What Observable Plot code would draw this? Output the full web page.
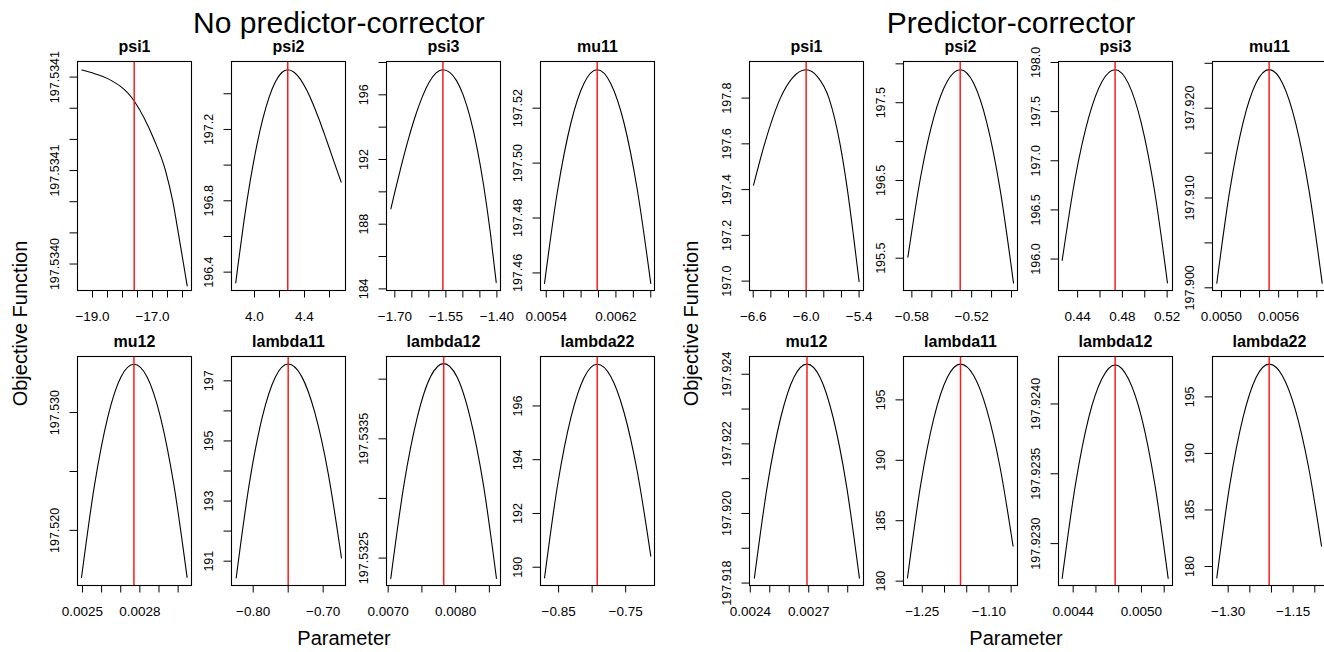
<!DOCTYPE html>
<html><head><meta charset="utf-8">
<script src="https://cdn.jsdelivr.net/npm/d3@7"></script>
<script src="https://cdn.jsdelivr.net/npm/@observablehq/plot@0.6"></script>
<style>
html,body{margin:0;padding:0;background:#fff;}
#fig{position:relative;width:1324px;height:652px;overflow:hidden;font-family:"Liberation Sans",Arial,Helvetica,sans-serif;}
#fig svg{position:absolute;}
</style></head><body><div id="fig"></div>
<script>
// ---------- DATA ----------
const groupTitles = ["No predictor-corrector", "Predictor-corrector"];
const xTitle = "Parameter";
const yTitle = "Objective Function";
const panelNames = ["psi1","psi2","psi3","mu11","mu12","lambda11","lambda12","lambda22"];

// curve samples, panels 0-7: no predictor-corrector, 8-15: predictor-corrector
const curveX = [
  [-19.356,-18.933,-18.489,-17.6,-16.956,-16.567,-16.322,-16.14,-15.965,-15.844],
  [3.85,3.8664,3.9164,3.9664,4.0164,4.0664,4.1164,4.1664,4.2164,4.2664,4.3164,4.3664,4.4164,4.4664,4.5164,4.5664,4.6164,4.6664,4.6936],
  [-1.7117,-1.6987,-1.6787,-1.6587,-1.6387,-1.6187,-1.5987,-1.5787,-1.5587,-1.5387,-1.5187,-1.4987,-1.4787,-1.4587,-1.4387,-1.4187,-1.4019],
  [0.00538,0.005531,0.005683,0.005834,0.005985,0.006139,0.006293,0.006446,0.0066],
  [0.002495,0.0025635,0.002632,0.0027005,0.002769,0.0028385,0.002908,0.0029775,0.003047],
  [-0.8243,-0.8057,-0.7872,-0.7686,-0.75,-0.731,-0.712,-0.6929,-0.6739],
  [0.007039,0.007235,0.007431,0.007627,0.007823,0.008019,0.008214,0.00841,0.008605],
  [-0.871,-0.8514,-0.8317,-0.8121,-0.7924,-0.7724,-0.7525,-0.7325,-0.7125],
  [-6.597,-6.4709,-6.2923,-6.15,-5.9998,-5.87,-5.7415,-5.6162,-5.5325,-5.4642,-5.3997],
  [-0.584,-0.5709,-0.5578,-0.5446,-0.5315,-0.5181,-0.5047,-0.4914,-0.478],
  [0.4262,0.438,0.4499,0.4617,0.4735,0.4852,0.4969,0.5086,0.5203],
  [0.004951,0.0050883,0.0052255,0.0053628,0.0055,0.0056393,0.0057785,0.0059178,0.006057],
  [0.002421,0.0024885,0.002556,0.0026235,0.002691,0.0027583,0.0028255,0.0028928,0.00296],
  [-1.2833,-1.2535,-1.2237,-1.1938,-1.164,-1.1344,-1.1049,-1.0753,-1.0457],
  [0.004303,0.0044195,0.004536,0.0046525,0.004769,0.0048855,0.005002,0.0051185,0.005235],
  [-1.3263,-1.2961,-1.2658,-1.2356,-1.2054,-1.1752,-1.145,-1.1147,-1.0845]
];
const curveY = [
  [197.5341445,197.5341422,197.534139,197.5341243,197.5341002,197.53408,197.53406,197.53404,197.53402,197.534006],
  [196.339,196.431,196.69,196.914,197.104,197.259,197.38,197.466,197.518,197.535,197.521,197.482,197.422,197.346,197.257,197.16,197.059,196.958,196.905],
  [188.95,190.106,191.803,193.367,194.75,195.906,196.788,197.352,197.55,197.39,196.877,195.965,194.607,192.755,190.362,187.382,184.39],
  [197.4562,197.4902,197.5146,197.5291,197.534,197.5291,197.5146,197.4902,197.4562],
  [197.516,197.5239,197.5296,197.533,197.5341,197.533,197.5296,197.5239,197.516],
  [190.44,193.555,195.78,197.115,197.56,197.157,195.948,193.932,191.11],
  [197.53233,197.53312,197.53368,197.53402,197.53413,197.53402,197.53368,197.53312,197.53233],
  [189.6,193.078,195.5625,197.053,197.55,197.104,195.765,193.534,190.41],
  [197.419,197.6,197.8,197.891,197.924,197.893,197.8,197.6,197.4,197.2,196.997],
  [195.513,196.567,197.3205,197.772,197.923,197.752,197.237,196.38,195.18],
  [195.987,196.835,197.441,197.805,197.926,197.79,197.384,196.705,195.756],
  [197.9005,197.9109,197.91835,197.92281,197.9243,197.92281,197.91835,197.9109,197.9005],
  [197.91814,197.92083,197.92275,197.92391,197.92429,197.92391,197.92275,197.92083,197.91814],
  [180.27,188.009,193.5375,196.854,197.96,197.019,194.195,189.489,182.9],
  [197.92275,197.92342,197.9239,197.92418,197.92428,197.92418,197.9239,197.92342,197.92275],
  [178.99,187.263,193.1725,196.718,197.9,196.894,193.875,188.844,181.8]
];
// red vertical line: estimate
const optimum = [-17.61,4.266,-1.5587,0.005985,0.002769,-0.75,0.007823,-0.7924,
                 -6.0,-0.5315,0.4735,0.0055,0.002691,-1.164,0.004769,-1.2054];

const xTicks = [
  [-19,-18.5,-18,-17.5,-17,-16.5,-16],
  [4.0,4.2,4.4,4.6],
  [-1.70,-1.65,-1.60,-1.55,-1.50,-1.45,-1.40],
  [0.0054,0.0056,0.0058,0.0060,0.0062,0.0064,0.0066],
  [0.0025,0.0026,0.0027,0.0028,0.0029,0.0030],
  [-0.80,-0.75,-0.70],
  [0.0070,0.0075,0.0080,0.0085],
  [-0.85,-0.80,-0.75],
  [-6.6,-6.4,-6.2,-6.0,-5.8,-5.6,-5.4],
  [-0.58,-0.56,-0.54,-0.52,-0.50,-0.48],
  [0.44,0.46,0.48,0.50,0.52],
  [0.0050,0.0052,0.0054,0.0056,0.0058,0.0060],
  [0.0024,0.0025,0.0026,0.0027,0.0028,0.0029],
  [-1.25,-1.20,-1.15,-1.10,-1.05],
  [0.0044,0.0046,0.0048,0.0050,0.0052],
  [-1.30,-1.25,-1.20,-1.15,-1.10]
];
const xTickLabels = [
  ["−19.0","","","","−17.0","",""],
  ["4.0","","4.4",""],
  ["−1.70","","","−1.55","","","−1.40"],
  ["0.0054","","","","0.0062","",""],
  ["0.0025","","","0.0028","",""],
  ["−0.80","","−0.70"],
  ["0.0070","","0.0080",""],
  ["−0.85","","−0.75"],
  ["−6.6","","","−6.0","","","−5.4"],
  ["−0.58","","","−0.52","",""],
  ["0.44","","0.48","","0.52"],
  ["0.0050","","","0.0056","",""],
  ["0.0024","","","0.0027","",""],
  ["−1.25","","","−1.10",""],
  ["0.0044","","","0.0050",""],
  ["−1.30","","","−1.15",""]
];
const yTicks = [
  [197.53414,197.53412,197.5341,197.53408,197.53406,197.53404,197.53402],
  [197.4,197.2,197.0,196.8,196.6,196.4],
  [198,196,194,192,190,188,186,184],
  [197.52,197.50,197.48,197.46],
  [197.530,197.525,197.520],
  [197,196,195,194,193,192,191],
  [197.534,197.5335,197.533,197.5325],
  [196,194,192,190],
  [197.8,197.6,197.4,197.2,197.0],
  [198.0,197.5,197.0,196.5,196.0,195.5],
  [198.0,197.5,197.0,196.5,196.0],
  [197.925,197.92,197.915,197.91,197.905,197.9],
  [197.924,197.923,197.922,197.921,197.92,197.919,197.918],
  [195,190,185,180],
  [197.924,197.9235,197.923],
  [195,190,185,180]
];
const yTickLabels = [
  ["197.5341","","","197.5341","","","197.5340"],
  ["","197.2","","196.8","","196.4"],
  ["","196","","192","","188","","184"],
  ["197.52","197.50","197.48","197.46"],
  ["197.530","","197.520"],
  ["197","","195","","193","","191"],
  ["","197.5335","","197.5325"],
  ["196","194","192","190"],
  ["197.8","197.6","197.4","197.2","197.0"],
  ["","197.5","","196.5","","195.5"],
  ["198.0","197.5","197.0","196.5","196.0"],
  ["","197.920","","197.910","","197.900"],
  ["197.924","","197.922","","197.920","","197.918"],
  ["195","190","185","180"],
  ["197.9240","197.9235","197.9230"],
  ["195","190","185","180"]
];

// ---------- SCALE LIMITS & LAYOUT ----------
const xDomains = [
  [-19.5,-15.7],[3.816,4.728],[-1.7245,-1.3894],[0.005334,0.006643],
  [0.002474,0.00307],[-0.831,-0.6681],[0.006975,0.008665],[-0.877,-0.707],
  [-6.642,-5.35],[-0.5884,-0.474],[0.4229,0.5248],[0.004906,0.006102],
  [0.002396,0.002981],[-1.2923,-1.0357],[0.004271,0.005273],[-1.3362,-1.073]
];
const yDomains = [
  [197.534003,197.53415],[196.297,197.581],[183.9,198.06],[197.4536,197.537],
  [197.51532,197.53476],[190.19,197.81],[197.53227,197.53419],[189.32,197.84],
  [196.959,197.96],[195.085,198.03],[195.68,198.01],[197.8997,197.9252],
  [197.91793,197.92451],[179.64,198.59],[197.9227,197.92434],[178.32,198.57]
];

const FONT = '"Liberation Sans", Arial, Helvetica, sans-serif';
const BOX_W = 114, BOX_H = 229;
const groupLeft = [77, 749];
const colStep = 154.3;
const rowTop = [61, 356];
const mL = 60, mR = 10, mT = 30, mB = 42;
const fig = document.getElementById("fig");

for (let i = 0; i < 16; i++) {
  const g = Math.floor(i / 8), k = i % 8, col = k % 4, row = Math.floor(k / 4);
  const boxLeft = Math.round(groupLeft[g] + col * colStep);
  const boxTop = rowTop[row];
  const xfmt = new Map(xTicks[i].map((t, j) => [t, xTickLabels[i][j]]));
  const yfmt = new Map(yTicks[i].map((t, j) => [t, yTickLabels[i][j]]));
  const pts = curveX[i].map((x, j) => ({x, y: curveY[i][j]}));
  const svg = Plot.plot({
    width: BOX_W + mL + mR,
    height: BOX_H + mT + mB,
    marginLeft: mL, marginRight: mR, marginTop: mT, marginBottom: mB,
    x: {domain: xDomains[i]},
    y: {domain: yDomains[i]},
    style: {background: "transparent", overflow: "visible", fontFamily: FONT, fontSize: "13.5px", color: "black"},
    marks: [
      Plot.line(pts, {x: "x", y: "y", curve: "monotone-x", stroke: "black", strokeWidth: 1.1, clip: true}),
      Plot.ruleX([optimum[i]], {stroke: "#ff1a1a", strokeWidth: 1.5}),
      Plot.frame({stroke: "black", strokeWidth: 1.1}),
      Plot.axisX({ticks: xTicks[i], tickSize: 7.5, tickPadding: 13.5, tickFormat: d => xfmt.get(d), label: null, fontSize: 13.5}),
      Plot.axisY({ticks: yTicks[i], tickSize: 7.5, tickPadding: 11, tickRotate: -90, tickFormat: d => yfmt.get(d), label: null, fontSize: 12.5}),
      Plot.text([panelNames[k]], {text: d => d, frameAnchor: "top", dy: -10, lineAnchor: "bottom", fontWeight: "bold", fontSize: 16})
    ]
  });
  svg.style.left = (boxLeft - mL) + "px";
  svg.style.top = (boxTop - mT) + "px";
  fig.appendChild(svg);
}

// overlay titles
const ov = d3.create("svg").attr("width", 1324).attr("height", 652)
  .style("left", "0px").style("top", "0px").style("pointer-events", "none")
  .style("font-family", FONT);
const titleX = [339, 1011], xLabX = [344, 1016], yLabX = [26.7, 698];
for (let g = 0; g < 2; g++) {
  ov.append("text").attr("x", titleX[g]).attr("y", 33).attr("text-anchor", "middle")
    .attr("font-size", 30).text(groupTitles[g]);
  ov.append("text").attr("x", xLabX[g]).attr("y", 645).attr("text-anchor", "middle")
    .attr("font-size", 20).text(xTitle);
  ov.append("text").attr("transform", `translate(${yLabX[g]},323.5) rotate(-90)`)
    .attr("text-anchor", "middle").attr("font-size", 20).text(yTitle);
}
fig.appendChild(ov.node());
</script></body></html>
